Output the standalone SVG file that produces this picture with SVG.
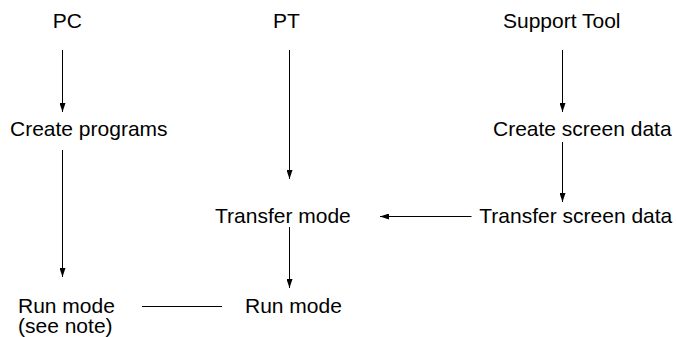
<svg xmlns="http://www.w3.org/2000/svg" width="676" height="337" viewBox="0 0 676 337">
<style>
text{font-family:"Liberation Sans",Arial,sans-serif;font-size:21px;fill:#000}
.c line{stroke:#000;stroke-width:1}
</style>
<defs>
<marker id="ah" markerUnits="userSpaceOnUse" markerWidth="9" markerHeight="6" refX="9" refY="3" orient="auto">
<path d="M0,0 L9,3 L0,6 z" fill="#000"/>
</marker>
</defs>
<rect width="676" height="337" fill="#fff"/>
<g id="pc"><text x="52.7" y="27.5">PC</text></g>
<g id="pt"><text x="273" y="27.5">PT</text></g>
<g id="support-tool"><text x="503" y="27.5">Support Tool</text></g>
<g id="create-programs"><text x="10" y="136">Create programs</text></g>
<g id="create-screen-data"><text x="493" y="136">Create screen data</text></g>
<g id="transfer-mode"><text x="215" y="222.5">Transfer mode</text></g>
<g id="transfer-screen-data"><text x="479.3" y="222.5">Transfer screen data</text></g>
<g id="pc-run-mode"><text x="18" y="312.5">Run mode<tspan x="18" dy="20.5">(see note)</tspan></text></g>
<g id="pt-run-mode"><text x="245" y="312.5">Run mode</text></g>
<g class="c" id="connectors">
<line x1="62.5" y1="50" x2="62.5" y2="112" marker-end="url(#ah)"/>
<line x1="62.5" y1="150" x2="62.5" y2="277" marker-end="url(#ah)"/>
<line x1="289.5" y1="50" x2="289.5" y2="179" marker-end="url(#ah)"/>
<line x1="289.5" y1="227" x2="289.5" y2="288" marker-end="url(#ah)"/>
<line x1="562.5" y1="50" x2="562.5" y2="112" marker-end="url(#ah)"/>
<line x1="562.5" y1="142" x2="562.5" y2="202" marker-end="url(#ah)"/>
<line x1="471.5" y1="216.5" x2="380" y2="216.5" marker-end="url(#ah)"/>
<line x1="142" y1="306.5" x2="222" y2="306.5"/>
</g>
</svg>
